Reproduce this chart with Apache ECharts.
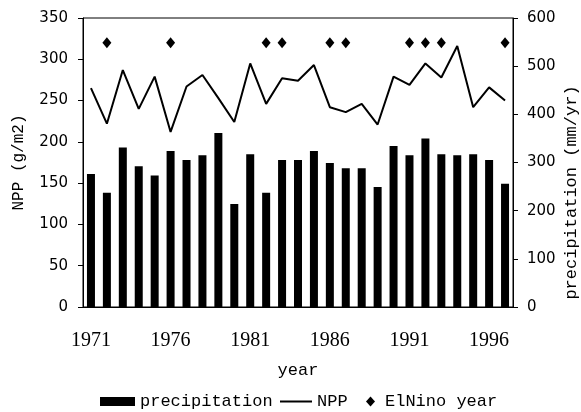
<!DOCTYPE html>
<html lang="en">
<head>
    <meta charset="UTF-8">
    <title>NPP and precipitation</title>
    <script type="text/javascript" src="https://cdn.jsdelivr.net/npm/echarts@6/dist/echarts.min.js"></script>
</head>
<body style="margin:0;">
<div id="main" style="width: 581px; height: 412px;"></div>
<script type="text/javascript">
    var years = ['1971', '1972', '1973', '1974', '1975', '1976', '1977', '1978', '1979', '1980',
        '1981', '1982', '1983', '1984', '1985', '1986', '1987', '1988', '1989', '1990',
        '1991', '1992', '1993', '1994', '1995', '1996', '1997'];
    // precipitation (mm/yr), right axis
    var precipitation = [276, 237, 331, 292, 273, 324, 305, 315, 361, 214,
        317, 237, 305, 305, 324, 299, 288, 288, 249, 334,
        315, 350, 317, 315, 317, 305, 256];
    // NPP (g/m2), left axis
    var npp = [265, 222, 287, 240, 279, 212, 267, 281, 253, 224,
        295, 246, 277, 274, 293, 242, 236, 246, 221, 279,
        269, 295, 278, 316, 242, 266, 250];
    var elninoYears = ['1972', '1976', '1982', '1983', '1986', '1987', '1991', '1992', '1993', '1997'];
    var elninoLevel = 320;

    var elninoData = elninoYears.map(function (y) { return [y, elninoLevel]; });

    var monoFont = 'Liberation Mono';
    var myChart = echarts.init(document.getElementById('main'));
    var option = {
        backgroundColor: '#fff',
        animation: false,
        grid: {
            left: 83, right: 68, top: 18, bottom: 105,
            outerBoundsMode: 'none',
            show: true, borderColor: '#000', borderWidth: 1
        },
        legend: [
            {
                data: ['precipitation'], left: 95, top: 388, selectedMode: false,
                icon: 'rect', itemWidth: 35, itemHeight: 9,
                textStyle: {fontFamily: monoFont, fontSize: 17, color: '#000'}
            },
            {
                data: ['NPP'], left: 275, top: 388, selectedMode: false,
                icon: 'rect', itemWidth: 32, itemHeight: 2,
                textStyle: {fontFamily: monoFont, fontSize: 17, color: '#000'}
            },
            {
                data: ['ElNino year'], left: 361, top: 388, selectedMode: false,
                icon: 'diamond', itemWidth: 9, itemHeight: 10,
                itemStyle: {color: '#000', opacity: 1},
                textStyle: {fontFamily: monoFont, fontSize: 17, color: '#000', padding: [0, 0, 0, 5]}
            }
        ],
        xAxis: {
            type: 'category',
            data: years,
            name: 'year',
            nameLocation: 'middle',
            nameGap: 55,
            nameTextStyle: {fontFamily: monoFont, fontSize: 17, color: '#000'},
            axisLine: {lineStyle: {color: '#000'}},
            axisTick: {inside: true, length: 5, interval: 0, lineStyle: {color: '#000'}},
            axisLabel: {
                interval: 4, margin: 24, color: '#000',
                fontFamily: 'Liberation Serif', fontSize: 20
            },
            splitLine: {show: false}
        },
        yAxis: [
            {
                type: 'value', min: 0, max: 350, interval: 50,
                name: 'NPP (g/m2)',
                nameLocation: 'middle', nameRotate: 90, nameGap: 56,
                nameTextStyle: {fontFamily: monoFont, fontSize: 16, color: '#000'},
                axisLine: {show: true, lineStyle: {color: '#000'}},
                axisTick: {show: true, length: 5, lineStyle: {color: '#000'}},
                axisLabel: {margin: 15, color: '#000', fontFamily: 'DejaVu Sans', fontSize: 15},
                splitLine: {show: false}
            },
            {
                type: 'value', min: 0, max: 600, interval: 100,
                name: 'precipitation (mm/yr)',
                nameLocation: 'middle', nameRotate: 90, nameGap: 50,
                nameMoveOverlap: false,
                nameTextStyle: {fontFamily: monoFont, fontSize: 17, color: '#000', padding: [0, 60, 0, 0]},
                axisLine: {show: true, lineStyle: {color: '#000'}},
                axisTick: {show: true, length: 5, lineStyle: {color: '#000'}},
                axisLabel: {margin: 14, color: '#000', fontFamily: 'DejaVu Sans', fontSize: 15},
                splitLine: {show: false}
            }
        ],
        series: [
            {
                name: 'precipitation',
                type: 'bar',
                yAxisIndex: 1,
                data: precipitation,
                barWidth: 8,
                itemStyle: {color: '#000'}
            },
            {
                name: 'NPP',
                type: 'line',
                yAxisIndex: 0,
                data: npp,
                symbol: 'none',
                lineStyle: {color: '#000', width: 2},
                itemStyle: {color: '#000'}
            },
            {
                name: 'ElNino year',
                type: 'scatter',
                yAxisIndex: 0,
                data: elninoData,
                symbol: 'diamond',
                symbolSize: [9, 11],
                itemStyle: {color: '#000', opacity: 1}
            }
        ]
    };
    myChart.setOption(option);
</script>
</body>
</html>
